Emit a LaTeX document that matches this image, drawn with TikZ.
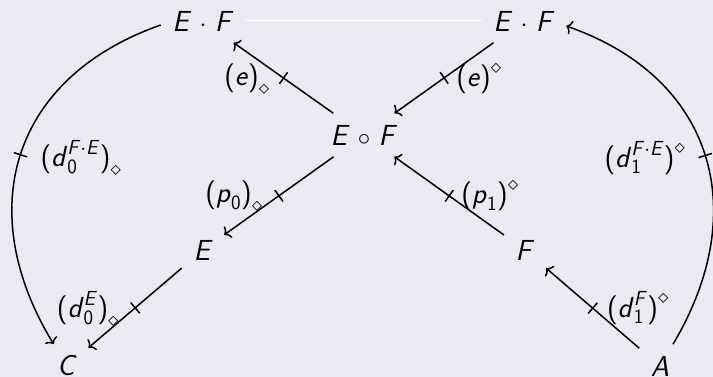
\documentclass[tikz,border=0pt]{standalone}
\usepackage{amsmath}
\usetikzlibrary{arrows.meta,decorations.markings}
\definecolor{bgcol}{HTML}{EAEAF2}
\newcommand{\sv}[1]{\textsf{\slshape #1\/}}
\newcommand{\su}[1]{\textsf{\upshape #1}}
\newcommand{\wideops}{\medmuskip=6mu\relax}
\tikzset{
  obj/.style={inner sep=11.5pt, font=\fontsize{29}{34}\selectfont\wideops},
  lab/.style={inner sep=0pt, font=\fontsize{29}{34}\selectfont},
  arr/.style={line width=1.5pt, -{To[length=5.5pt,width=14pt]}},
  barred/.style={postaction={decorate}, decoration={markings,
     mark=at position #1 with {\draw[-, line width=1.5pt] (0,-7pt) -- (0,7pt);}}},
}
\begin{document}
\begin{tikzpicture}[x=1pt,y=-1pt]
\fill[bgcol] (0,0) rectangle (713,377);
\useasboundingbox (0,0) rectangle (713,377);
\node[obj] (EFl) at (203,21) {$\sv{E}\cdot\sv{F}$};
\node[obj] (EFr) at (524,21) {$\sv{E}\cdot\sv{F}$};
\node[obj] (EoF) at (364,135) {$\sv{E}\circ\sv{F}$};
\node[obj] (E) at (203,250) {$\sv{E}$};
\node[obj] (F) at (525,250) {$\sv{F}$};
\node[obj] (C) at (67,366) {$\sv{C}$};
\node[obj] (A) at (660,366) {$\sv{A}$};
\draw[white, line width=1pt] (EFl) -- (EFr);
\draw[arr, barred=0.5] (EoF) -- (EFl);
\draw[arr, barred=0.5] (EFr) -- (EoF);
\draw[arr, barred=0.5] (EoF) -- (E);
\draw[arr, barred=0.5] (F) -- (EoF);
\draw[arr, barred=0.5] (E) -- (C);
\draw[arr, barred=0.5] (A) -- (F);
\draw[arr, barred=0.5] ([yshift=-4pt]EFl.west) .. controls (10,78) and (-27,212) .. (C);
\draw[arr, barred=0.5] (A) .. controls (752,212) and (715,78) .. ([yshift=-5pt]EFr.east);
\node[lab] (l1) at (247,79) {$\su{(}\sv{e}\su{)}_\diamond$};
\node[lab] (l2) at (479,79) {$\su{(}\sv{e}\su{)}^\diamond$};
\node[lab] (l3) at (81,158) {$\su{(}\sv{d}_{\su{0}}^{\sv{F}\cdot\sv{E}}\su{)}_\diamond$};
\node[lab] (l4) at (645,158) {$\su{(}\sv{d}_{\su{1}}^{\sv{F}\cdot\sv{E}}\su{)}^\diamond$};
\node[lab] (l5) at (234,196) {$\su{(}\sv{p}_{\su{0}}\su{)}_\diamond$};
\node[lab] (l6) at (490,196) {$\su{(}\sv{p}_{\su{1}}\su{)}^\diamond$};
\node[lab] (l7) at (88,309) {$\su{(}\sv{d}_{\su{0}}^{\sv{E}}\su{)}_\diamond$};
\node[lab] (l8) at (638,308) {$\su{(}\sv{d}_{\su{1}}^{\sv{F}}\su{)}^\diamond$};
\end{tikzpicture}
\end{document}
